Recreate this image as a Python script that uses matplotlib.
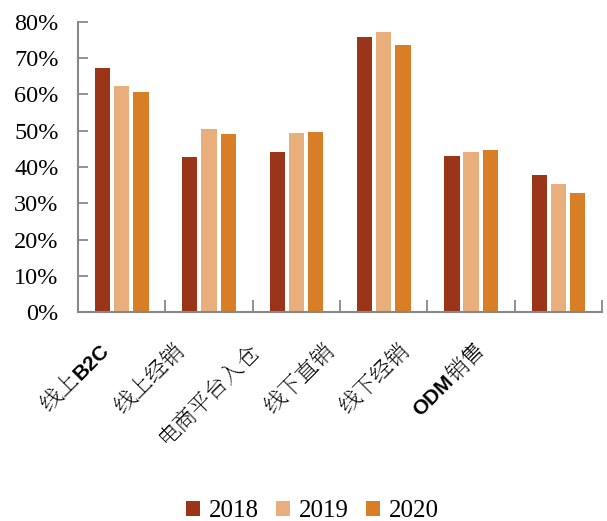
import matplotlib
matplotlib.use("Agg")
import re
import numpy as np
import matplotlib.pyplot as plt
from matplotlib.ticker import FuncFormatter, FixedLocator
from matplotlib.transforms import offset_copy

# channel share by year
channels = ["线上B2C", "线上经销", "电商平台入仓", "线下直销", "线下经销", "ODM销售"]
years = ["2018", "2019", "2020"]
share_2018 = [67.3, 42.8, 44.1, 75.9, 43.0, 37.7]
share_2019 = [62.2, 50.5, 49.3, 77.1, 44.2, 35.4]
share_2020 = [60.8, 49.1, 49.7, 73.7, 44.6, 32.7]
colors = ["#9A3519", "#E8AF7C", "#D77E27"]

plt.rcParams['font.family'] = ['Liberation Serif', 'DejaVu Serif']

fig = plt.figure(figsize=(6.07, 5.21), dpi=100)
ax = fig.add_axes([0.1285, 0.401, 0.8635, 0.557])

x = np.arange(len(channels))
width = 0.175
step = 0.22
for k, (vals, lab, c) in enumerate(zip([share_2018, share_2019, share_2020], years, colors)):
    ax.bar(x + (k - 1) * step, vals, width, color=c, label=lab, zorder=2)

ax.set_xlim(-0.5, len(channels) - 0.5)
ax.set_ylim(0, 80)
ax.set_yticks(np.arange(0, 81, 10))
ax.yaxis.set_major_formatter(FuncFormatter(lambda v, p: "%d%%" % v))
ax.tick_params(axis='y', direction='in', length=7, width=1.3, color='#888888',
               labelsize=17.5, pad=14)

# tick marks sit between the categories
ax.xaxis.set_major_locator(FixedLocator(np.arange(0.5, len(channels), 1.0)))
ax.tick_params(axis='x', direction='in', length=9, width=1.3, color='#888888',
               labelbottom=False)

for side in ['top', 'right']:
    ax.spines[side].set_visible(False)
for side in ['left', 'bottom']:
    ax.spines[side].set_color('#888888')
    ax.spines[side].set_linewidth(1.5)

# category labels, slanted; latin runs in bold sans, chinese in song style
cjk_style = dict(fontsize=16, family=['Noto Serif SC', 'DejaVu Serif'])
latin_style = dict(fontsize=15, family='Liberation Sans', fontweight='bold')
renderer = fig.canvas.get_renderer()
base = ax.get_xaxis_transform()
cs = np.cos(np.radians(45))

label_x = np.arange(len(channels)) * 0.86 - 0.13
for lx, name in zip(label_x, channels):
    parts = re.findall(r'[A-Za-z0-9]+|[^A-Za-z0-9]+', name)
    d = 0.0
    for part in reversed(parts):
        style = latin_style if re.match(r'[A-Za-z0-9]', part) else cjk_style
        probe = fig.text(0, 0, part, **style)
        w = probe.get_window_extent(renderer).width
        probe.remove()
        tr = offset_copy(base, fig, x=-d * cs, y=-d * cs, units='dots')
        ax.text(lx, -0.135, part, transform=tr, rotation=45,
                rotation_mode='anchor', ha='right', va='baseline', **style)
        d += w

leg = fig.legend(loc='lower center', bbox_to_anchor=(0.515, -0.045), ncol=3,
                 frameon=False, fontsize=18, handlelength=0.55, handleheight=0.55,
                 handletextpad=0.35, columnspacing=0.7)

fig.savefig('out.png', dpi=100)
